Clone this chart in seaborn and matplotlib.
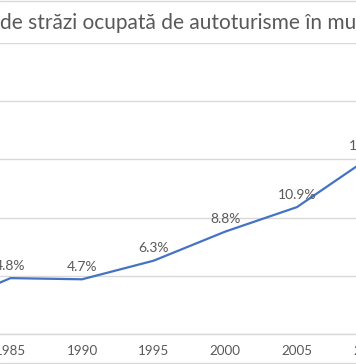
import matplotlib
matplotlib.use("Agg")
import matplotlib.pyplot as plt
from matplotlib.lines import Line2D
import seaborn as sns
import pandas as pd

years = [1980, 1985, 1990, 1995, 2000, 2005, 2010]
values = [2.2, 4.8, 4.7, 6.3, 8.8, 10.9, 15.1]
labels = ["2.2%", "4.8%", "4.7%", "6.3%", "8.8%", "10.9%", "15.1%"]
title = "de străzi ocupată de autoturisme în mu"

sns.set_theme(style="white")
plt.rcParams["font.family"] = ["Lato", "DejaVu Sans"]

TEXT = "#595959"
GRID = "#D9D9D9"
LINE = "#4472C4"

df = pd.DataFrame({"year": years, "value": values})

fig = plt.figure(figsize=(3.56, 3.64), dpi=100)
W, H = 356, 364
# plot area extends beyond the cropped figure on both sides
left_px, right_px = -96.9, 404.3
top_px, bottom_px = 43, 334
ax = fig.add_axes([left_px / W, (H - bottom_px) / H,
                   (right_px - left_px) / W, (bottom_px - top_px) / H])

sns.lineplot(data=df, x="year", y="value", ax=ax, color=LINE, linewidth=1.6,
             marker=None, clip_on=False)

ax.set_xlim(1977.5, 2012.5)
ax.set_ylim(0, 25)
ax.set_xticks(years)
ax.set_xticklabels([str(y) for y in years])
ax.set_yticks([0, 5, 10, 15, 20, 25])
ax.set_yticklabels([])
ax.grid(axis="y", color=GRID, linewidth=1)
ax.grid(axis="x", visible=False)
ax.set_axisbelow(True)
for s in ["top", "left", "right"]:
    ax.spines[s].set_visible(False)
ax.spines["bottom"].set_color(GRID)
ax.spines["bottom"].set_linewidth(1)
ax.tick_params(axis="x", length=0, pad=8, labelsize=9.6, colors=TEXT)
ax.tick_params(axis="y", length=0)
ax.set_xlabel("")
ax.set_ylabel("")

for x, y, t in zip(years, values, labels):
    ax.annotate(t, (x, y), xytext=(0, 9), textcoords="offset points",
                ha="center", va="center", fontsize=10, color=TEXT,
                annotation_clip=False)

fig.text(0.5 / W, 1 - 23 / H, title, ha="left", va="center",
         fontsize=15, color=TEXT)

fig.add_artist(Line2D([0, 1], [1 - 1 / H, 1 - 1 / H], transform=fig.transFigure,
                      color=GRID, linewidth=1))
fig.add_artist(Line2D([0, 1], [1 / H, 1 / H], transform=fig.transFigure,
                      color=GRID, linewidth=1))

fig.savefig("out.png", dpi=100)
